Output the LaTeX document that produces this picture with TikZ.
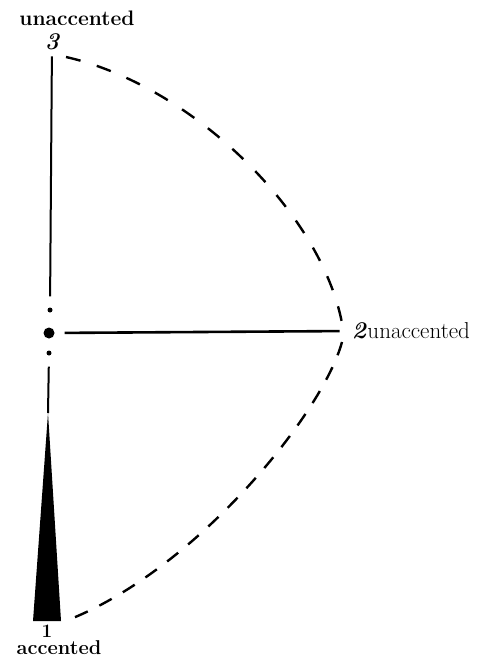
\documentclass[tikz,border=0pt]{standalone}
\usepackage{fontspec}
\begin{document}
\begin{tikzpicture}[x=1pt, y=-1pt,
    arc/.style={line width=2.4pt, dash pattern=on 15pt off 17pt},
    dot/.style={circle, fill, inner sep=0pt, minimum size=#1},
    lbl/.style={inner sep=0pt, font=\fontsize{21}{24}\selectfont\bfseries},
    num/.style={inner sep=0pt, font=\fontsize{24}{28}\selectfont\bfseries\itshape}]
    \useasboundingbox (0,0) rectangle (498,660);

    \node[lbl] (u3) at (77,18) {unaccented};
    \node[num] (n3) at (52,42) {3};
    \node[num] (n2) at (359,331) {2};
    \node[lbl, font=\fontsize{23}{26}\selectfont, anchor=west] (u2) at ([xshift=1pt]n2.east) {unaccented};
    \node[num, font=\fontsize{19}{22}\selectfont\bfseries, anchor=south] (n1) at (47,638) {1};
    \node[lbl, font=\fontsize{20}{24}\selectfont\bfseries] (a1) at (59,648) {accented};

    \node[dot=5pt] (d1) at (50,310) {};
    \node[dot=11pt] (O) at (49,333) {};
    \node[dot=5pt] (d2) at (49,353) {};

    \coordinate (A) at (48,413);
    \coordinate (BL) at (33,621);
    \coordinate (BR) at (61,621);

    \draw[line width=2pt, shorten <=6pt, shorten >=11pt] (n3) -- (d1);
    \draw[line width=2pt, shorten <=11pt] (d2) -- (A);
    \fill (A) -- (BR) -- (BL) -- cycle;
    \draw[line width=2.6pt, shorten <=10pt, shorten >=12pt] (O) -- (n2.west);

    \coordinate (s3) at (66,57);
    \coordinate (s2u) at (342,323);
    \coordinate (s2l) at (342,342);
    \coordinate (s1) at (68,620);
    \draw[arc] (s3) .. controls (190,85) and (320,210) .. (s2u);
    \draw[arc, dash pattern=on 14pt off 13pt] (s2l) .. controls (322,415) and (195,570) .. (s1);
\end{tikzpicture}
\end{document}
